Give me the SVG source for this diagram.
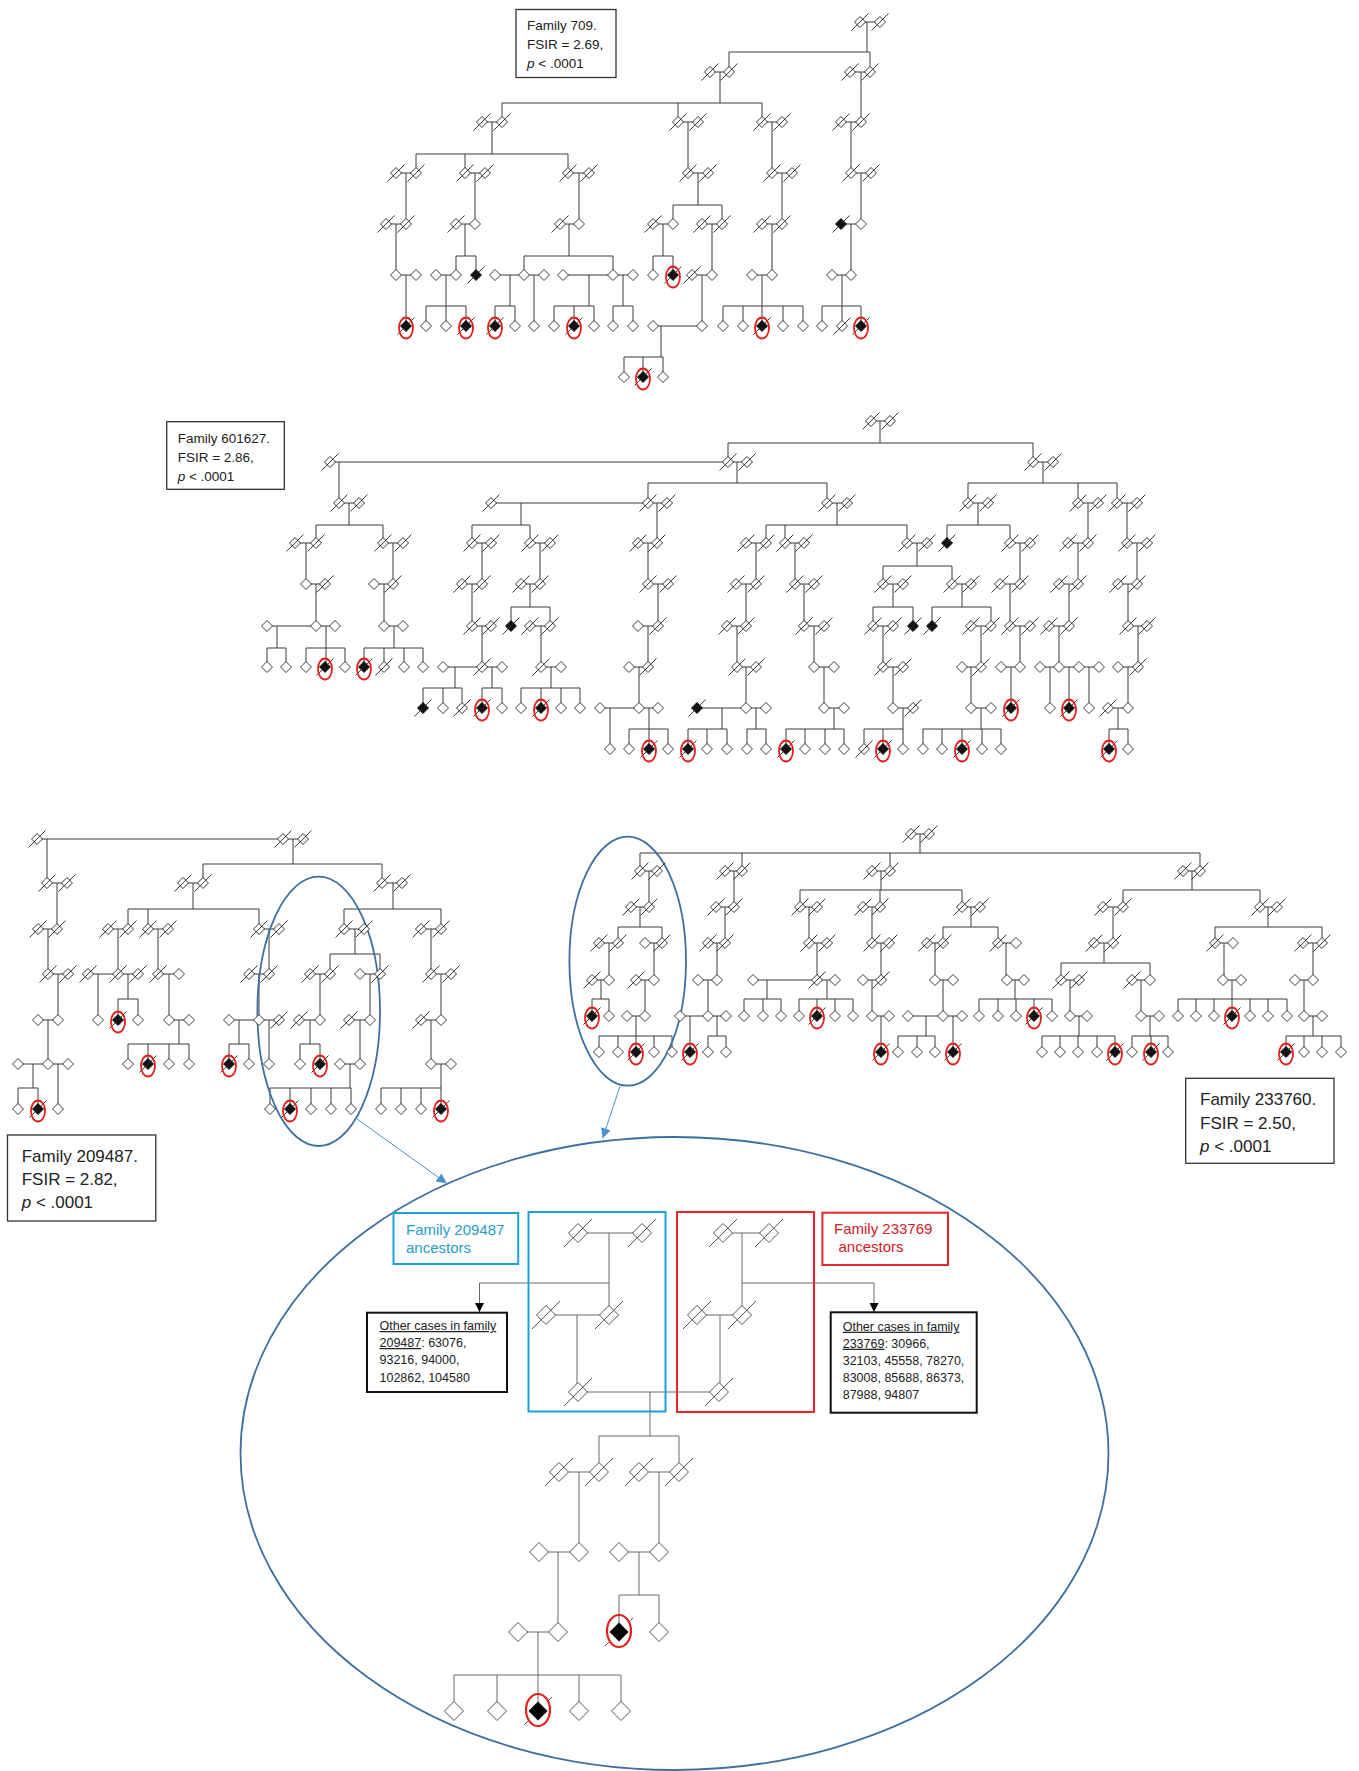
<svg xmlns="http://www.w3.org/2000/svg" width="1359" height="1771" viewBox="0 0 1359 1771">
<style>
.ln{fill:none;stroke:#3a3a3a;stroke-width:1}
.gl{fill:none;stroke:#6a6a6a;stroke-width:1}
.sym{fill:#fff;stroke:#222;stroke-width:0.9}
.sl{stroke:#222;stroke-width:0.9;fill:none}
.blk{fill:#111;stroke:#111;stroke-width:0.9}
.red{fill:none;stroke:#e3201b;stroke-width:1.8}
.lb{fill:#fff;stroke:#333;stroke-width:1.3}
.t{font-family:"Liberation Sans",Arial,sans-serif;fill:#222}
.t13{font-size:13.5px}
.t17{font-size:17px}
.t12{font-size:12.5px}
.cy{fill:#2a9bc6;font-size:15px}
.rd{fill:#d42027;font-size:15px}
.oval{fill:none;stroke:#3f6f9f;stroke-width:1.8}
</style>
<defs>
<path id="dm" d="M0-5.5 5.5 0 0 5.5-5.5 0Z"/>
<g id="p"><use href="#dm" class="sym"/></g>
<g id="s"><use href="#dm" class="sym"/><path d="M-8.5 8.5 8.5-8.5" class="sl"/></g>
<g id="f"><use href="#dm" class="blk"/><path d="M-8.5 8.5 8.5-8.5" class="sl"/></g>
<g id="a"><use href="#f"/><ellipse cx="0" cy="2" rx="7" ry="10.5" class="red"/></g>
<path id="DM" d="M0-9.5 9.5 0 0 9.5-9.5 0Z"/>
<g id="P"><use href="#DM" fill="#fff" stroke="#555" stroke-width="1"/></g>
<g id="S"><use href="#DM" fill="#fff" stroke="#555" stroke-width="1"/><path d="M-14 14 14-14" stroke="#555" stroke-width="1"/></g>
<g id="A"><use href="#DM" fill="#000"/><path d="M-14 14-9 9M9-9 14-14" stroke="#555" stroke-width="1"/><ellipse cx="0" cy="-1" rx="12" ry="16" fill="none" stroke="#e3201b" stroke-width="2.2"/></g>
<marker id="ab" viewBox="0 0 10 10" refX="10" refY="5" markerWidth="12" markerHeight="10" markerUnits="userSpaceOnUse" orient="auto"><path d="M0 0L10 5L0 10Z" fill="#4a8fd0"/></marker>
<marker id="ak" viewBox="0 0 10 10" refX="10" refY="5" markerWidth="11" markerHeight="9" markerUnits="userSpaceOnUse" orient="auto"><path d="M0 0L10 5L0 10Z" fill="#000"/></marker>
</defs>
<rect width="1359" height="1771" fill="#fff"/>

<g id="connectors">
<path id="c709" class="ln" d="M860 22H880M867 22V52M729 52H870M729 52V72M870 52V72
M710 72H729M720 72V103M502 103H762M502 103V122M678 103V122M762 103V122
M850 72H870M861 72V122
M482 122H502M492 122V154M416 154H568M416 154V173M465 154V173M568 154V173
M678 122H698M688 122V173M762 122H782M772 122V173M841 122H861M851 122V173
M396 173H416M406 173V224M465 173H485M475 173V224M568 173H589M579 173V224
M688 173H708M698 173V205M673 205H722M673 205V224M722 205V224
M772 173H792M782 173V224M851 173H871M861 173V224
M386 224H406M396 224V275
M456 224H475M465 224V256M456 256H476M456 256V275M476 256V275
M560 224H579M569 224V256M524 256H613M524 256V275M613 256V275
M653 224H673M663 224V256M653 256H673M653 256V275M673 256V275
M702 224H722M712 224V275M762 224H782M772 224V275M841 224H861M851 224V275
M396 275H416M406 275V326
M436 275H456M446 275V306M426 306H466M426 306V326M446 306V326M466 306V326
M495 275H544M510 275V306M495 306H515M495 306V326M515 306V326M534 275V326
M563 275H633M589 275V306M554 306H594M554 306V326M574 306V326M594 306V326M623 275V306M613 306H633M613 306V326M633 306V326
M692 275H712M702 275V326
M752 275H772M762 275V306M723 306H803M723 306V326M743 306V326M762 306V326M783 306V326M803 306V326
M832 275H851M842 275V306M822 306H861M822 306V326M842 306V326M861 306V326
M653 326H702M661 326V357M624 357H663M624 357V377M643 357V377M663 357V377"/>
<path id="c601627" class="ln" d="M871 421H890M880 421V443M728 443H1033M728 443V462M1033 443V462
M330 462H747M339 462V503M737 462V483M648 483H827M648 483V503M827 483V503
M1033 462H1053M1043 462V483M968 483H1117M968 483V503M1078 483V503M1117 483V503
M339 503H359M349 503V525M316 525H383M316 525V543M383 525V543
M491 503H667M521 503V525M472 525H530M472 525V543M530 525V543M657 503V543
M827 503H847M837 503V525M766 525H907M766 525V543M785 525V543M907 525V543
M968 503H988M978 503V525M947 525H1010M947 525V543M1010 525V543
M1078 503H1098M1088 503V543M1117 503H1137M1127 503V543
M295 543H316M306 543V584M383 543H403M393 543V584M472 543H491M482 543V584M530 543H550M540 543V584
M638 543H657M648 543V584M746 543H766M756 543V584M785 543H804M795 543V584
M907 543H927M917 543V566M883 566H952M883 566V584M952 566V584
M1010 543H1030M1020 543V584M1068 543H1088M1078 543V584M1127 543H1147M1137 543V584
M306 584H325M316 584V626M374 584H393M384 584V626M462 584H482M472 584V626
M521 584H540M530 584V607M511 607H550M511 607V626M550 607V626
M648 584H668M658 584V626M736 584H756M746 584V626M795 584H814M804 584V626
M883 584H903M893 584V607M873 607H913M873 607V626M913 607V626
M952 584H971M962 584V607M932 607H991M932 607V626M991 607V626
M1000 584H1020M1010 584V626M1059 584H1078M1069 584V626M1118 584H1137M1128 584V626
M267 626H335M277 626V648M267 648H286M267 648V667M286 648V667M326 626V648M306 648H345M306 648V667M326 648V667M345 648V667
M384 626H403M394 626V648M364 648H423M364 648V667M384 648V667M404 648V667M423 648V667
M472 626H491M482 626V667M530 626H550M541 626V667M638 626H658M648 626V667M727 626H746M737 626V667
M804 626H824M814 626V667M873 626H893M883 626V667M971 626H991M981 626V667
M1010 626H1030M1020 626V667M1049 626H1069M1059 626V667M1128 626H1147M1138 626V667
M443 667H502M455 667V688M423 688H462M423 688V708M443 688V708M462 688V708M492 667V688M482 688H502M482 688V708M502 688V708
M541 667H561M551 667V688M521 688H580M521 688V708M541 688V708M561 688V708M580 688V708
M629 667H648M639 667V708M737 667H756M746 667V708M814 667H834M824 667V708M883 667H903M893 667V708
M962 667H981M971 667V708M1001 667H1020M1011 667V708
M1040 667H1099M1050 667V708M1069 667V708M1089 667V708M1118 667H1138M1128 667V708
M600 708H658M610 708V749M649 708V729M629 729H668M629 729V749M649 729V749M668 729V749
M697 708H766M722 708V729M688 729H727M688 729V749M707 729V749M727 729V749M756 708V729M747 729H766M747 729V749M766 729V749
M824 708H844M834 708V729M786 729H844M786 729V749M805 729V749M825 729V749M844 729V749
M893 708H913M903 708V729M864 729H903M864 729V749M883 729V749M903 729V749
M971 708H991M981 708V729M923 729H1001M923 729V749M942 729V749M962 729V749M982 729V749M1001 729V749
M1108 708H1128M1118 708V729M1109 729H1128M1109 729V749M1128 729V749"/>
<path id="c209487" class="ln" d="M37 839H303M47 839V883M293 839V864M203 864H382M203 864V883M382 864V883
M47 883H67M57 883V929
M183 883H203M193 883V909M128 909H259M128 909V929M148 909V929M259 909V929
M382 883H402M393 883V909M344 909H441M344 909V929M441 909V929
M38 929H57M48 929V974M108 929H128M118 929V974M148 929H168M158 929V974M259 929H279M269 929V974
M344 929H364M355 929V954M330 954H380M330 954V974M380 954V974M421 929H441M431 929V974
M48 974H68M58 974V1020
M88 974H138M98 974V1020M128 974V999M118 999H138M118 999V1020M138 999V1020
M158 974H179M169 974V1020M249 974H269M259 974V1020M310 974H330M320 974V1020M360 974H380M370 974V1020M431 974H451M441 974V1020
M38 1020H58M48 1020V1064
M169 1020H189M179 1020V1044M128 1044H189M128 1044V1064M148 1044V1064M169 1044V1064M189 1044V1064
M229 1020H279M239 1020V1044M229 1044H249M229 1044V1064M249 1044V1064M269 1020V1064
M299 1020H320M310 1020V1044M300 1044H320M300 1044V1064M320 1044V1064
M349 1020H370M360 1020V1064M421 1020H441M431 1020V1064
M18 1064H68M33 1064V1088M18 1088H38M18 1088V1109M38 1088V1109M58 1064V1109
M340 1064H360M350 1064V1088M270 1088H351M270 1088V1109M290 1088V1109M311 1088V1109M331 1088V1109M351 1088V1109
M431 1064H451M441 1064V1088M381 1088H441M381 1088V1109M401 1088V1109M421 1088V1109M441 1088V1109"/>
<path id="c233760" class="ln" d="M911 834H929M920 834V853M640 853H1200M640 853V871M742 853V871M890 853V871M1200 853V871
M640 871H657M649 871V907M725 871H742M734 871V907
M872 871H890M881 871V890M800 890H962M800 890V907M880 890V907M962 890V907
M1183 871H1200M1192 871V890M1123 890H1260M1123 890V907M1260 890V907
M631 907H649M640 907V927M618 927H662M618 927V943M662 927V943
M716 907H734M725 907V943M800 907H817M809 907V943M863 907H880M872 907V943
M962 907H980M971 907V927M943 927H998M943 927V943M998 927V943
M1103 907H1123M1113 907V943
M1260 907H1277M1268 907V927M1215 927H1322M1215 927V943M1322 927V943
M599 943H618M609 943V980M645 943H662M654 943V980M708 943H725M717 943V980
M809 943H827M817 943V980M872 943H889M881 943V980M927 943H943M935 943V980M998 943H1016M1006 943V980
M1094 943H1113M1104 943V963M1061 963H1150M1061 963V980M1150 963V980
M1215 943H1233M1224 943V980M1303 943H1322M1313 943V980
M592 980H609M601 980V999M592 999H609M592 999V1016M609 999V1016
M636 980H654M645 980V1016M698 980H717M708 980V1016
M753 980H835M767 980V999M744 999H781M744 999V1016M763 999V1016M781 999V1016M827 980V999M799 999H853M799 999V1016M817 999V1016M835 999V1016M853 999V1016
M863 980H881M872 980V1016M935 980H953M943 980V1016
M1007 980H1024M1015 980V999M979 999H1052M979 999V1016M998 999V1016M1016 999V1016M1034 999V1016M1052 999V1016
M1061 980H1079M1070 980V1016M1132 980H1150M1141 980V1016
M1223 980H1241M1232 980V999M1178 999H1287M1178 999V1016M1196 999V1016M1214 999V1016M1232 999V1016M1250 999V1016M1268 999V1016M1287 999V1016
M1295 980H1313M1304 980V1016
M627 1016H645M636 1016V1036M599 1036H672M599 1036V1052M618 1036V1052M636 1036V1052M654 1036V1052M672 1036V1052
M680 1016H726M690 1016V1052M717 1016V1036M708 1036H726M708 1036V1052M726 1036V1052
M872 1016H889M881 1016V1052
M908 1016H962M926 1016V1036M898 1036H935M898 1036V1052M917 1036V1052M935 1036V1052M953 1016V1052
M1070 1016H1087M1079 1016V1036M1042 1036H1115M1042 1036V1052M1060 1036V1052M1078 1036V1052M1097 1036V1052M1115 1036V1052
M1141 1016H1159M1150 1016V1036M1132 1036H1168M1132 1036V1052M1151 1036V1052M1168 1036V1052
M1304 1016H1322M1313 1016V1036M1286 1036H1341M1286 1036V1052M1304 1036V1052M1322 1036V1052M1341 1036V1052"/>
<path id="cinset" class="gl" d="M578 1233H642M609 1233V1315M546 1315H609M577 1315V1392M578 1392H719
M723 1233H769M742 1233V1315M697 1315H742M720 1315V1392
M650 1392V1436M599 1436H679M599 1436V1472M679 1436V1472
M559 1472H599M579 1472V1552M639 1472H679M659 1472V1552
M539 1552H579M558 1552V1632M619 1552H659M639 1552V1595M619 1595H659M619 1595V1632M659 1595V1632
M518 1632H558M538 1632V1675M454 1675H621M454 1675V1711M497 1675V1711M538 1675V1711M579 1675V1711M621 1675V1711"/>
<path id="arr209" class="gl" d="M609 1283H479.5V1312" marker-end="url(#ak)"/>
<path id="arr233" class="gl" d="M742 1283H874V1312" marker-end="url(#ak)"/>
<path id="zoom1" d="M357 1119L446.7 1183.3" stroke="#4a8fd0" stroke-width="1" fill="none" marker-end="url(#ab)"/>
<path id="zoom2" d="M620 1086L602.7 1138.3" stroke="#4a8fd0" stroke-width="1" fill="none" marker-end="url(#ab)"/>
</g>

<g id="highlights">
<ellipse cx="318.7" cy="1011.3" rx="61.3" ry="134.7" class="oval"/>
<ellipse cx="627.7" cy="961.2" rx="58.3" ry="124.5" class="oval"/>
<ellipse cx="674.5" cy="1453.5" rx="434" ry="316.5" class="oval" stroke-width="2"/>
</g>

<g id="fam709">
<g id="a1"><use href="#s" x="860" y="22"/></g><g id="a2"><use href="#s" x="880" y="22"/></g>
<g id="a3"><use href="#s" x="710" y="72"/></g><g id="a4"><use href="#s" x="729" y="72"/></g><g id="a5"><use href="#s" x="850" y="72"/></g><g id="a6"><use href="#s" x="870" y="72"/></g>
<g id="a7"><use href="#s" x="482" y="122"/></g><g id="a8"><use href="#s" x="502" y="122"/></g><g id="a9"><use href="#s" x="678" y="122"/></g><g id="a10"><use href="#s" x="698" y="122"/></g><g id="a11"><use href="#s" x="762" y="122"/></g><g id="a12"><use href="#s" x="782" y="122"/></g><g id="a13"><use href="#s" x="841" y="122"/></g><g id="a14"><use href="#s" x="861" y="122"/></g>
<g id="a15"><use href="#s" x="396" y="173"/></g><g id="a16"><use href="#s" x="416" y="173"/></g><g id="a17"><use href="#s" x="465" y="173"/></g><g id="a18"><use href="#s" x="485" y="173"/></g><g id="a19"><use href="#s" x="568" y="173"/></g><g id="a20"><use href="#s" x="589" y="173"/></g><g id="a21"><use href="#s" x="688" y="173"/></g><g id="a22"><use href="#s" x="708" y="173"/></g><g id="a23"><use href="#s" x="772" y="173"/></g><g id="a24"><use href="#s" x="792" y="173"/></g><g id="a25"><use href="#s" x="851" y="173"/></g><g id="a26"><use href="#s" x="871" y="173"/></g>
<g id="a27"><use href="#s" x="386" y="224"/></g><g id="a28"><use href="#s" x="406" y="224"/></g><g id="a29"><use href="#s" x="456" y="224"/></g><g id="a30"><use href="#p" x="475" y="224"/></g><g id="a31"><use href="#s" x="560" y="224"/></g><g id="a32"><use href="#p" x="579" y="224"/></g><g id="a33"><use href="#s" x="653" y="224"/></g><g id="a34"><use href="#p" x="673" y="224"/></g><g id="a35"><use href="#s" x="702" y="224"/></g><g id="a36"><use href="#s" x="722" y="224"/></g><g id="a37"><use href="#s" x="762" y="224"/></g><g id="a38"><use href="#s" x="782" y="224"/></g><g id="a39"><use href="#f" x="841" y="224"/></g><g id="a40"><use href="#p" x="861" y="224"/></g>
<g id="a41"><use href="#p" x="396" y="275"/></g><g id="a42"><use href="#p" x="416" y="275"/></g><g id="a43"><use href="#p" x="436" y="275"/></g><g id="a44"><use href="#p" x="456" y="275"/></g><g id="a45"><use href="#f" x="476" y="275"/></g><g id="a46"><use href="#p" x="495" y="275"/></g><g id="a47"><use href="#p" x="524" y="275"/></g><g id="a48"><use href="#p" x="544" y="275"/></g><g id="a49"><use href="#p" x="563" y="275"/></g><g id="a50"><use href="#p" x="613" y="275"/></g><g id="a51"><use href="#p" x="633" y="275"/></g><g id="a52"><use href="#p" x="653" y="275"/></g><g id="a53"><use href="#a" x="673" y="275"/></g><g id="a54"><use href="#s" x="692" y="275"/></g><g id="a55"><use href="#p" x="712" y="275"/></g><g id="a56"><use href="#p" x="752" y="275"/></g><g id="a57"><use href="#p" x="772" y="275"/></g><g id="a58"><use href="#p" x="832" y="275"/></g><g id="a59"><use href="#p" x="851" y="275"/></g>
<g id="a60"><use href="#a" x="406" y="326"/></g><g id="a61"><use href="#p" x="426" y="326"/></g><g id="a62"><use href="#p" x="446" y="326"/></g><g id="a63"><use href="#a" x="466" y="326"/></g><g id="a64"><use href="#a" x="495" y="326"/></g><g id="a65"><use href="#p" x="515" y="326"/></g><g id="a66"><use href="#p" x="534" y="326"/></g><g id="a67"><use href="#p" x="554" y="326"/></g><g id="a68"><use href="#a" x="574" y="326"/></g><g id="a69"><use href="#p" x="594" y="326"/></g><g id="a70"><use href="#p" x="613" y="326"/></g><g id="a71"><use href="#p" x="633" y="326"/></g><g id="a72"><use href="#p" x="653" y="326"/></g><g id="a73"><use href="#p" x="702" y="326"/></g><g id="a74"><use href="#p" x="723" y="326"/></g><g id="a75"><use href="#p" x="743" y="326"/></g><g id="a76"><use href="#a" x="762" y="326"/></g><g id="a77"><use href="#p" x="783" y="326"/></g><g id="a78"><use href="#p" x="803" y="326"/></g><g id="a79"><use href="#p" x="822" y="326"/></g><g id="a80"><use href="#s" x="842" y="326"/></g><g id="a81"><use href="#a" x="861" y="326"/></g>
<g id="a82"><use href="#p" x="624" y="377"/></g><g id="a83"><use href="#a" x="643" y="377"/></g><g id="a84"><use href="#p" x="663" y="377"/></g>
<g id="lab709"><rect x="516" y="9.5" width="100" height="68" class="lb"/><text class="t t13" x="527" y="30">Family 709.</text><text class="t t13" x="527" y="49.3">FSIR = 2.69,</text><text class="t t13" x="527" y="68.3"><tspan font-style="italic">p</tspan> &lt; .0001</text></g>
</g>

<g id="fam601627">
<g id="b1"><use href="#s" x="871" y="421"/></g><g id="b2"><use href="#s" x="890" y="421"/></g>
<g id="b3"><use href="#s" x="330" y="462"/></g><g id="b4"><use href="#s" x="728" y="462"/></g><g id="b5"><use href="#s" x="747" y="462"/></g><g id="b6"><use href="#s" x="1033" y="462"/></g><g id="b7"><use href="#s" x="1053" y="462"/></g>
<g id="b8"><use href="#s" x="339" y="503"/></g><g id="b9"><use href="#s" x="359" y="503"/></g><g id="b10"><use href="#s" x="491" y="503"/></g><g id="b11"><use href="#s" x="648" y="503"/></g><g id="b12"><use href="#s" x="667" y="503"/></g><g id="b13"><use href="#s" x="827" y="503"/></g><g id="b14"><use href="#s" x="847" y="503"/></g><g id="b15"><use href="#s" x="968" y="503"/></g><g id="b16"><use href="#s" x="988" y="503"/></g><g id="b17"><use href="#s" x="1078" y="503"/></g><g id="b18"><use href="#s" x="1098" y="503"/></g><g id="b19"><use href="#s" x="1117" y="503"/></g><g id="b20"><use href="#s" x="1137" y="503"/></g>
<g id="b21"><use href="#s" x="295" y="543"/></g><g id="b22"><use href="#s" x="316" y="543"/></g><g id="b23"><use href="#s" x="383" y="543"/></g><g id="b24"><use href="#s" x="403" y="543"/></g><g id="b25"><use href="#s" x="472" y="543"/></g><g id="b26"><use href="#s" x="491" y="543"/></g><g id="b27"><use href="#s" x="530" y="543"/></g><g id="b28"><use href="#s" x="550" y="543"/></g><g id="b29"><use href="#s" x="638" y="543"/></g><g id="b30"><use href="#s" x="657" y="543"/></g><g id="b31"><use href="#s" x="746" y="543"/></g><g id="b32"><use href="#s" x="766" y="543"/></g><g id="b33"><use href="#s" x="785" y="543"/></g><g id="b34"><use href="#s" x="804" y="543"/></g><g id="b35"><use href="#s" x="907" y="543"/></g><g id="b36"><use href="#s" x="927" y="543"/></g><g id="b37"><use href="#f" x="947" y="543"/></g><g id="b38"><use href="#s" x="1010" y="543"/></g><g id="b39"><use href="#s" x="1030" y="543"/></g><g id="b40"><use href="#s" x="1068" y="543"/></g><g id="b41"><use href="#s" x="1088" y="543"/></g><g id="b42"><use href="#s" x="1127" y="543"/></g><g id="b43"><use href="#s" x="1147" y="543"/></g>
<g id="b44"><use href="#p" x="306" y="584"/></g><g id="b45"><use href="#s" x="325" y="584"/></g><g id="b46"><use href="#p" x="374" y="584"/></g><g id="b47"><use href="#s" x="393" y="584"/></g><g id="b48"><use href="#s" x="462" y="584"/></g><g id="b49"><use href="#s" x="482" y="584"/></g><g id="b50"><use href="#s" x="521" y="584"/></g><g id="b51"><use href="#s" x="540" y="584"/></g><g id="b52"><use href="#s" x="648" y="584"/></g><g id="b53"><use href="#s" x="668" y="584"/></g><g id="b54"><use href="#s" x="736" y="584"/></g><g id="b55"><use href="#s" x="756" y="584"/></g><g id="b56"><use href="#s" x="795" y="584"/></g><g id="b57"><use href="#s" x="814" y="584"/></g><g id="b58"><use href="#s" x="883" y="584"/></g><g id="b59"><use href="#s" x="903" y="584"/></g><g id="b60"><use href="#s" x="952" y="584"/></g><g id="b61"><use href="#s" x="971" y="584"/></g><g id="b62"><use href="#s" x="1000" y="584"/></g><g id="b63"><use href="#s" x="1020" y="584"/></g><g id="b64"><use href="#s" x="1059" y="584"/></g><g id="b65"><use href="#s" x="1078" y="584"/></g><g id="b66"><use href="#s" x="1118" y="584"/></g><g id="b67"><use href="#s" x="1137" y="584"/></g>
<g id="b68"><use href="#p" x="267" y="626"/></g><g id="b69"><use href="#p" x="316" y="626"/></g><g id="b70"><use href="#p" x="335" y="626"/></g><g id="b71"><use href="#p" x="384" y="626"/></g><g id="b72"><use href="#p" x="403" y="626"/></g><g id="b73"><use href="#s" x="472" y="626"/></g><g id="b74"><use href="#s" x="491" y="626"/></g><g id="b75"><use href="#f" x="511" y="626"/></g><g id="b76"><use href="#s" x="530" y="626"/></g><g id="b77"><use href="#s" x="550" y="626"/></g><g id="b78"><use href="#p" x="638" y="626"/></g><g id="b79"><use href="#s" x="658" y="626"/></g><g id="b80"><use href="#s" x="727" y="626"/></g><g id="b81"><use href="#s" x="746" y="626"/></g><g id="b82"><use href="#s" x="804" y="626"/></g><g id="b83"><use href="#s" x="824" y="626"/></g><g id="b84"><use href="#s" x="873" y="626"/></g><g id="b85"><use href="#s" x="893" y="626"/></g><g id="b86"><use href="#f" x="913" y="626"/></g><g id="b87"><use href="#f" x="932" y="626"/></g><g id="b88"><use href="#s" x="971" y="626"/></g><g id="b89"><use href="#s" x="991" y="626"/></g><g id="b90"><use href="#s" x="1010" y="626"/></g><g id="b91"><use href="#s" x="1030" y="626"/></g><g id="b92"><use href="#s" x="1049" y="626"/></g><g id="b93"><use href="#s" x="1069" y="626"/></g><g id="b94"><use href="#s" x="1128" y="626"/></g><g id="b95"><use href="#s" x="1147" y="626"/></g>
<g id="b96"><use href="#p" x="267" y="667"/></g><g id="b97"><use href="#p" x="286" y="667"/></g><g id="b98"><use href="#p" x="306" y="667"/></g><g id="b99"><use href="#a" x="325" y="667"/></g><g id="b100"><use href="#p" x="345" y="667"/></g><g id="b101"><use href="#a" x="364" y="667"/></g><g id="b102"><use href="#s" x="384" y="667"/></g><g id="b103"><use href="#p" x="404" y="667"/></g><g id="b104"><use href="#p" x="423" y="667"/></g><g id="b105"><use href="#p" x="443" y="667"/></g><g id="b106"><use href="#s" x="482" y="667"/></g><g id="b107"><use href="#p" x="502" y="667"/></g><g id="b108"><use href="#s" x="541" y="667"/></g><g id="b109"><use href="#p" x="561" y="667"/></g><g id="b110"><use href="#p" x="629" y="667"/></g><g id="b111"><use href="#s" x="648" y="667"/></g><g id="b112"><use href="#s" x="737" y="667"/></g><g id="b113"><use href="#s" x="756" y="667"/></g><g id="b114"><use href="#p" x="814" y="667"/></g><g id="b115"><use href="#p" x="834" y="667"/></g><g id="b116"><use href="#s" x="883" y="667"/></g><g id="b117"><use href="#s" x="903" y="667"/></g><g id="b118"><use href="#p" x="962" y="667"/></g><g id="b119"><use href="#s" x="981" y="667"/></g><g id="b120"><use href="#p" x="1001" y="667"/></g><g id="b121"><use href="#p" x="1020" y="667"/></g><g id="b122"><use href="#p" x="1040" y="667"/></g><g id="b123"><use href="#p" x="1059" y="667"/></g><g id="b124"><use href="#p" x="1079" y="667"/></g><g id="b125"><use href="#p" x="1099" y="667"/></g><g id="b126"><use href="#p" x="1118" y="667"/></g><g id="b127"><use href="#s" x="1138" y="667"/></g>
<g id="b128"><use href="#f" x="423" y="708"/></g><g id="b129"><use href="#p" x="443" y="708"/></g><g id="b130"><use href="#s" x="462" y="708"/></g><g id="b131"><use href="#a" x="482" y="708"/></g><g id="b132"><use href="#p" x="502" y="708"/></g><g id="b133"><use href="#p" x="521" y="708"/></g><g id="b134"><use href="#a" x="541" y="708"/></g><g id="b135"><use href="#p" x="561" y="708"/></g><g id="b136"><use href="#p" x="580" y="708"/></g><g id="b137"><use href="#p" x="600" y="708"/></g><g id="b138"><use href="#p" x="639" y="708"/></g><g id="b139"><use href="#p" x="658" y="708"/></g><g id="b140"><use href="#f" x="697" y="708"/></g><g id="b141"><use href="#p" x="746" y="708"/></g><g id="b142"><use href="#p" x="766" y="708"/></g><g id="b143"><use href="#p" x="824" y="708"/></g><g id="b144"><use href="#p" x="844" y="708"/></g><g id="b145"><use href="#p" x="893" y="708"/></g><g id="b146"><use href="#s" x="913" y="708"/></g><g id="b147"><use href="#p" x="971" y="708"/></g><g id="b148"><use href="#p" x="991" y="708"/></g><g id="b149"><use href="#a" x="1011" y="708"/></g><g id="b150"><use href="#p" x="1050" y="708"/></g><g id="b151"><use href="#a" x="1069" y="708"/></g><g id="b152"><use href="#p" x="1089" y="708"/></g><g id="b153"><use href="#s" x="1108" y="708"/></g><g id="b154"><use href="#p" x="1128" y="708"/></g>
<g id="b155"><use href="#p" x="610" y="749"/></g><g id="b156"><use href="#p" x="629" y="749"/></g><g id="b157"><use href="#a" x="649" y="749"/></g><g id="b158"><use href="#p" x="668" y="749"/></g><g id="b159"><use href="#a" x="688" y="749"/></g><g id="b160"><use href="#p" x="707" y="749"/></g><g id="b161"><use href="#p" x="727" y="749"/></g><g id="b162"><use href="#p" x="747" y="749"/></g><g id="b163"><use href="#p" x="766" y="749"/></g><g id="b164"><use href="#a" x="786" y="749"/></g><g id="b165"><use href="#p" x="805" y="749"/></g><g id="b166"><use href="#p" x="825" y="749"/></g><g id="b167"><use href="#p" x="844" y="749"/></g><g id="b168"><use href="#s" x="864" y="749"/></g><g id="b169"><use href="#a" x="883" y="749"/></g><g id="b170"><use href="#p" x="903" y="749"/></g><g id="b171"><use href="#p" x="923" y="749"/></g><g id="b172"><use href="#p" x="942" y="749"/></g><g id="b173"><use href="#a" x="962" y="749"/></g><g id="b174"><use href="#p" x="982" y="749"/></g><g id="b175"><use href="#p" x="1001" y="749"/></g><g id="b176"><use href="#a" x="1109" y="749"/></g><g id="b177"><use href="#p" x="1128" y="749"/></g>
<g id="lab601627"><rect x="166.7" y="421.7" width="117.6" height="67.6" class="lb"/><text class="t t13" x="177.7" y="442.7">Family 601627.</text><text class="t t13" x="177.7" y="461.7">FSIR = 2.86,</text><text class="t t13" x="177.7" y="480.7"><tspan font-style="italic">p</tspan> &lt; .0001</text></g>
</g>

<g id="fam209487">
<g id="c1"><use href="#s" x="37" y="839"/></g><g id="c2"><use href="#s" x="283" y="839"/></g><g id="c3"><use href="#s" x="303" y="839"/></g>
<g id="c4"><use href="#s" x="47" y="883"/></g><g id="c5"><use href="#s" x="67" y="883"/></g><g id="c6"><use href="#s" x="183" y="883"/></g><g id="c7"><use href="#s" x="203" y="883"/></g><g id="c8"><use href="#s" x="382" y="883"/></g><g id="c9"><use href="#s" x="402" y="883"/></g>
<g id="c10"><use href="#s" x="38" y="929"/></g><g id="c11"><use href="#s" x="57" y="929"/></g><g id="c12"><use href="#s" x="108" y="929"/></g><g id="c13"><use href="#s" x="128" y="929"/></g><g id="c14"><use href="#s" x="148" y="929"/></g><g id="c15"><use href="#s" x="168" y="929"/></g><g id="c16"><use href="#s" x="259" y="929"/></g><g id="c17"><use href="#s" x="279" y="929"/></g><g id="c18"><use href="#s" x="344" y="929"/></g><g id="c19"><use href="#s" x="364" y="929"/></g><g id="c20"><use href="#s" x="421" y="929"/></g><g id="c21"><use href="#s" x="441" y="929"/></g>
<g id="c22"><use href="#s" x="48" y="974"/></g><g id="c23"><use href="#s" x="68" y="974"/></g><g id="c24"><use href="#s" x="88" y="974"/></g><g id="c25"><use href="#s" x="118" y="974"/></g><g id="c26"><use href="#s" x="138" y="974"/></g><g id="c27"><use href="#s" x="158" y="974"/></g><g id="c28"><use href="#p" x="179" y="974"/></g><g id="c29"><use href="#s" x="249" y="974"/></g><g id="c30"><use href="#s" x="269" y="974"/></g><g id="c31"><use href="#s" x="310" y="974"/></g><g id="c32"><use href="#s" x="330" y="974"/></g><g id="c33"><use href="#p" x="360" y="974"/></g><g id="c34"><use href="#s" x="380" y="974"/></g><g id="c35"><use href="#s" x="431" y="974"/></g><g id="c36"><use href="#s" x="451" y="974"/></g>
<g id="c37"><use href="#p" x="38" y="1020"/></g><g id="c38"><use href="#p" x="58" y="1020"/></g><g id="c39"><use href="#p" x="98" y="1020"/></g><g id="c40"><use href="#a" x="118" y="1020"/></g><g id="c41"><use href="#p" x="138" y="1020"/></g><g id="c42"><use href="#p" x="169" y="1020"/></g><g id="c43"><use href="#p" x="189" y="1020"/></g><g id="c44"><use href="#p" x="229" y="1020"/></g><g id="c45"><use href="#p" x="259" y="1020"/></g><g id="c46"><use href="#s" x="279" y="1020"/></g><g id="c47"><use href="#s" x="299" y="1020"/></g><g id="c48"><use href="#p" x="320" y="1020"/></g><g id="c49"><use href="#s" x="349" y="1020"/></g><g id="c50"><use href="#p" x="370" y="1020"/></g><g id="c51"><use href="#s" x="421" y="1020"/></g><g id="c52"><use href="#p" x="441" y="1020"/></g>
<g id="c53"><use href="#p" x="18" y="1064"/></g><g id="c54"><use href="#p" x="48" y="1064"/></g><g id="c55"><use href="#p" x="68" y="1064"/></g><g id="c56"><use href="#p" x="128" y="1064"/></g><g id="c57"><use href="#a" x="148" y="1064"/></g><g id="c58"><use href="#p" x="169" y="1064"/></g><g id="c59"><use href="#p" x="189" y="1064"/></g><g id="c60"><use href="#a" x="229" y="1064"/></g><g id="c61"><use href="#p" x="249" y="1064"/></g><g id="c62"><use href="#p" x="269" y="1064"/></g><g id="c63"><use href="#p" x="300" y="1064"/></g><g id="c64"><use href="#a" x="320" y="1064"/></g><g id="c65"><use href="#p" x="340" y="1064"/></g><g id="c66"><use href="#p" x="360" y="1064"/></g><g id="c67"><use href="#p" x="431" y="1064"/></g><g id="c68"><use href="#p" x="451" y="1064"/></g>
<g id="c69"><use href="#p" x="18" y="1109"/></g><g id="c70"><use href="#a" x="38" y="1109"/></g><g id="c71"><use href="#p" x="58" y="1109"/></g><g id="c72"><use href="#p" x="270" y="1109"/></g><g id="c73"><use href="#a" x="290" y="1109"/></g><g id="c74"><use href="#p" x="311" y="1109"/></g><g id="c75"><use href="#p" x="331" y="1109"/></g><g id="c76"><use href="#p" x="351" y="1109"/></g><g id="c77"><use href="#p" x="381" y="1109"/></g><g id="c78"><use href="#p" x="401" y="1109"/></g><g id="c79"><use href="#p" x="421" y="1109"/></g><g id="c80"><use href="#a" x="441" y="1109"/></g>
<g id="lab209487"><rect x="7.5" y="1135" width="148.3" height="86" class="lb"/><text class="t t17" x="21.7" y="1161.7">Family 209487.</text><text class="t t17" x="21.7" y="1185">FSIR = 2.82,</text><text class="t t17" x="21.7" y="1208.3"><tspan font-style="italic">p</tspan> &lt; .0001</text></g>
</g>

<g id="fam233760">
<g id="d1"><use href="#s" x="911" y="834"/></g><g id="d2"><use href="#s" x="929" y="834"/></g>
<g id="d3"><use href="#s" x="640" y="871"/></g><g id="d4"><use href="#s" x="657" y="871"/></g><g id="d5"><use href="#s" x="725" y="871"/></g><g id="d6"><use href="#s" x="742" y="871"/></g><g id="d7"><use href="#s" x="872" y="871"/></g><g id="d8"><use href="#s" x="890" y="871"/></g><g id="d9"><use href="#s" x="1183" y="871"/></g><g id="d10"><use href="#s" x="1200" y="871"/></g>
<g id="d11"><use href="#s" x="631" y="907"/></g><g id="d12"><use href="#s" x="649" y="907"/></g><g id="d13"><use href="#s" x="716" y="907"/></g><g id="d14"><use href="#s" x="734" y="907"/></g><g id="d15"><use href="#s" x="800" y="907"/></g><g id="d16"><use href="#s" x="817" y="907"/></g><g id="d17"><use href="#s" x="863" y="907"/></g><g id="d18"><use href="#s" x="880" y="907"/></g><g id="d19"><use href="#s" x="962" y="907"/></g><g id="d20"><use href="#s" x="980" y="907"/></g><g id="d21"><use href="#s" x="1103" y="907"/></g><g id="d22"><use href="#s" x="1123" y="907"/></g><g id="d23"><use href="#s" x="1260" y="907"/></g><g id="d24"><use href="#s" x="1277" y="907"/></g>
<g id="d25"><use href="#s" x="599" y="943"/></g><g id="d26"><use href="#s" x="618" y="943"/></g><g id="d27"><use href="#p" x="645" y="943"/></g><g id="d28"><use href="#s" x="662" y="943"/></g><g id="d29"><use href="#s" x="708" y="943"/></g><g id="d30"><use href="#s" x="725" y="943"/></g><g id="d31"><use href="#s" x="809" y="943"/></g><g id="d32"><use href="#s" x="827" y="943"/></g><g id="d33"><use href="#s" x="872" y="943"/></g><g id="d34"><use href="#s" x="889" y="943"/></g><g id="d35"><use href="#s" x="927" y="943"/></g><g id="d36"><use href="#s" x="943" y="943"/></g><g id="d37"><use href="#s" x="998" y="943"/></g><g id="d38"><use href="#p" x="1016" y="943"/></g><g id="d39"><use href="#s" x="1094" y="943"/></g><g id="d40"><use href="#s" x="1113" y="943"/></g><g id="d41"><use href="#s" x="1215" y="943"/></g><g id="d42"><use href="#p" x="1233" y="943"/></g><g id="d43"><use href="#s" x="1303" y="943"/></g><g id="d44"><use href="#s" x="1322" y="943"/></g>
<g id="d45"><use href="#s" x="592" y="980"/></g><g id="d46"><use href="#p" x="609" y="980"/></g><g id="d47"><use href="#s" x="636" y="980"/></g><g id="d48"><use href="#p" x="654" y="980"/></g><g id="d49"><use href="#p" x="698" y="980"/></g><g id="d50"><use href="#p" x="717" y="980"/></g><g id="d51"><use href="#p" x="753" y="980"/></g><g id="d52"><use href="#s" x="817" y="980"/></g><g id="d53"><use href="#p" x="835" y="980"/></g><g id="d54"><use href="#p" x="863" y="980"/></g><g id="d55"><use href="#s" x="881" y="980"/></g><g id="d56"><use href="#p" x="935" y="980"/></g><g id="d57"><use href="#p" x="953" y="980"/></g><g id="d58"><use href="#p" x="1007" y="980"/></g><g id="d59"><use href="#p" x="1024" y="980"/></g><g id="d60"><use href="#s" x="1061" y="980"/></g><g id="d61"><use href="#s" x="1079" y="980"/></g><g id="d62"><use href="#s" x="1132" y="980"/></g><g id="d63"><use href="#p" x="1150" y="980"/></g><g id="d64"><use href="#p" x="1223" y="980"/></g><g id="d65"><use href="#p" x="1241" y="980"/></g><g id="d66"><use href="#p" x="1295" y="980"/></g><g id="d67"><use href="#p" x="1313" y="980"/></g>
<g id="d68"><use href="#a" x="592" y="1016"/></g><g id="d69"><use href="#p" x="609" y="1016"/></g><g id="d70"><use href="#p" x="627" y="1016"/></g><g id="d71"><use href="#p" x="645" y="1016"/></g><g id="d72"><use href="#p" x="680" y="1016"/></g><g id="d73"><use href="#p" x="708" y="1016"/></g><g id="d74"><use href="#p" x="726" y="1016"/></g><g id="d75"><use href="#p" x="744" y="1016"/></g><g id="d76"><use href="#p" x="763" y="1016"/></g><g id="d77"><use href="#p" x="781" y="1016"/></g><g id="d78"><use href="#p" x="799" y="1016"/></g><g id="d79"><use href="#a" x="817" y="1016"/></g><g id="d80"><use href="#p" x="835" y="1016"/></g><g id="d81"><use href="#p" x="853" y="1016"/></g><g id="d82"><use href="#p" x="872" y="1016"/></g><g id="d83"><use href="#p" x="889" y="1016"/></g><g id="d84"><use href="#p" x="908" y="1016"/></g><g id="d85"><use href="#p" x="943" y="1016"/></g><g id="d86"><use href="#p" x="962" y="1016"/></g><g id="d87"><use href="#p" x="979" y="1016"/></g><g id="d88"><use href="#p" x="998" y="1016"/></g><g id="d89"><use href="#p" x="1016" y="1016"/></g><g id="d90"><use href="#a" x="1034" y="1016"/></g><g id="d91"><use href="#p" x="1052" y="1016"/></g><g id="d92"><use href="#p" x="1070" y="1016"/></g><g id="d93"><use href="#p" x="1087" y="1016"/></g><g id="d94"><use href="#p" x="1141" y="1016"/></g><g id="d95"><use href="#p" x="1159" y="1016"/></g><g id="d96"><use href="#p" x="1178" y="1016"/></g><g id="d97"><use href="#p" x="1196" y="1016"/></g><g id="d98"><use href="#p" x="1214" y="1016"/></g><g id="d99"><use href="#a" x="1232" y="1016"/></g><g id="d100"><use href="#p" x="1250" y="1016"/></g><g id="d101"><use href="#p" x="1268" y="1016"/></g><g id="d102"><use href="#p" x="1287" y="1016"/></g><g id="d103"><use href="#p" x="1304" y="1016"/></g><g id="d104"><use href="#p" x="1322" y="1016"/></g>
<g id="d105"><use href="#p" x="599" y="1052"/></g><g id="d106"><use href="#p" x="618" y="1052"/></g><g id="d107"><use href="#a" x="636" y="1052"/></g><g id="d108"><use href="#p" x="654" y="1052"/></g><g id="d109"><use href="#p" x="672" y="1052"/></g><g id="d110"><use href="#a" x="690" y="1052"/></g><g id="d111"><use href="#p" x="708" y="1052"/></g><g id="d112"><use href="#p" x="726" y="1052"/></g><g id="d113"><use href="#a" x="881" y="1052"/></g><g id="d114"><use href="#p" x="898" y="1052"/></g><g id="d115"><use href="#p" x="917" y="1052"/></g><g id="d116"><use href="#p" x="935" y="1052"/></g><g id="d117"><use href="#a" x="953" y="1052"/></g><g id="d118"><use href="#p" x="1042" y="1052"/></g><g id="d119"><use href="#p" x="1060" y="1052"/></g><g id="d120"><use href="#p" x="1078" y="1052"/></g><g id="d121"><use href="#p" x="1097" y="1052"/></g><g id="d122"><use href="#a" x="1115" y="1052"/></g><g id="d123"><use href="#p" x="1132" y="1052"/></g><g id="d124"><use href="#a" x="1151" y="1052"/></g><g id="d125"><use href="#p" x="1168" y="1052"/></g><g id="d126"><use href="#a" x="1286" y="1052"/></g><g id="d127"><use href="#p" x="1304" y="1052"/></g><g id="d128"><use href="#p" x="1322" y="1052"/></g><g id="d129"><use href="#p" x="1341" y="1052"/></g>
<g id="lab233760"><rect x="1185.7" y="1078.3" width="148.3" height="85" class="lb"/><text class="t t17" x="1200" y="1105">Family 233760.</text><text class="t t17" x="1200" y="1128.5">FSIR = 2.50,</text><text class="t t17" x="1200" y="1152"><tspan font-style="italic">p</tspan> &lt; .0001</text></g>
</g>

<g id="inset">
<rect id="box209anc" x="528.5" y="1212" width="137" height="199.5" fill="none" stroke="#1ea0d4" stroke-width="2"/>
<rect id="box233anc" x="677" y="1212" width="137" height="200" fill="none" stroke="#e8242a" stroke-width="2"/>
<g id="lab209anc"><rect x="393.5" y="1213" width="124.7" height="51" fill="#fff" stroke="#1ea0d4" stroke-width="2"/><text class="t cy" x="406" y="1234.5">Family 209487</text><text class="t cy" x="406" y="1253">ancestors</text></g>
<g id="lab233anc"><rect x="822.4" y="1212.7" width="125.6" height="52.3" fill="#fff" stroke="#e8242a" stroke-width="2"/><text class="t rd" x="834" y="1233.5">Family 233769</text><text class="t rd" x="838.5" y="1252">ancestors</text></g>
<g id="other209"><rect x="367" y="1312.7" width="140" height="79.3" fill="#fff" stroke="#111" stroke-width="2"/><text class="t t12" x="379.5" y="1330"><tspan text-decoration="underline">Other cases in family</tspan></text><text class="t t12" x="379.5" y="1347"><tspan text-decoration="underline">209487</tspan>: 63076,</text><text class="t t12" x="379.5" y="1364">93216, 94000,</text><text class="t t12" x="379.5" y="1381.5">102862, 104580</text></g>
<g id="other233"><rect x="830.7" y="1312.3" width="146" height="100.4" fill="#fff" stroke="#111" stroke-width="2"/><text class="t t12" x="842.7" y="1330.7"><tspan text-decoration="underline">Other cases in family</tspan></text><text class="t t12" x="842.7" y="1347.7"><tspan text-decoration="underline">233769</tspan>: 30966,</text><text class="t t12" x="842.7" y="1365">32103, 45558, 78270,</text><text class="t t12" x="842.7" y="1382">83008, 85688, 86373,</text><text class="t t12" x="842.7" y="1399">87988, 94807</text></g>
<g id="e1"><use href="#S" x="578" y="1233"/></g><g id="e2"><use href="#S" x="642" y="1233"/></g><g id="e3"><use href="#S" x="546" y="1315"/></g><g id="e4"><use href="#S" x="609" y="1315"/></g><g id="e5"><use href="#S" x="578" y="1392"/></g>
<g id="e6"><use href="#S" x="723" y="1233"/></g><g id="e7"><use href="#S" x="769" y="1233"/></g><g id="e8"><use href="#S" x="697" y="1315"/></g><g id="e9"><use href="#S" x="742" y="1315"/></g><g id="e10"><use href="#S" x="719" y="1392"/></g>
<g id="e11"><use href="#S" x="559" y="1472"/></g><g id="e12"><use href="#S" x="599" y="1472"/></g><g id="e13"><use href="#S" x="639" y="1472"/></g><g id="e14"><use href="#S" x="679" y="1472"/></g>
<g id="e15"><use href="#P" x="539" y="1552"/></g><g id="e16"><use href="#P" x="579" y="1552"/></g><g id="e17"><use href="#P" x="619" y="1552"/></g><g id="e18"><use href="#P" x="659" y="1552"/></g>
<g id="e19"><use href="#P" x="518" y="1632"/></g><g id="e20"><use href="#P" x="558" y="1632"/></g><g id="e21"><use href="#A" x="619" y="1632"/></g><g id="e22"><use href="#P" x="659" y="1632"/></g>
<g id="e23"><use href="#P" x="454" y="1711"/></g><g id="e24"><use href="#P" x="497" y="1711"/></g><g id="e25"><use href="#A" x="538" y="1711"/></g><g id="e26"><use href="#P" x="579" y="1711"/></g><g id="e27"><use href="#P" x="621" y="1711"/></g>
</g>
</svg>
